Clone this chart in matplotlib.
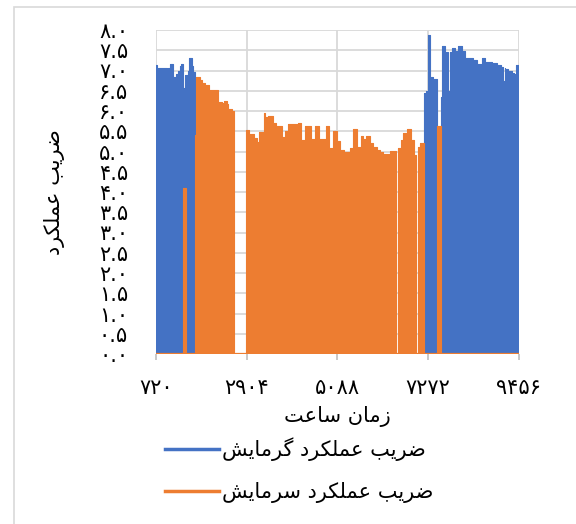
import matplotlib
matplotlib.use("Agg")
import matplotlib.pyplot as plt
from matplotlib.lines import Line2D
from matplotlib.patches import Rectangle

plt.rcParams['font.family'] = ['DejaVu Sans']

# heating COP (hour of year, value) -- step data
heat_hours = [720, 735, 770, 978, 1014, 1057, 1130, 1190, 1240, 1290, 1330, 1378, 1414,
              1491, 1527, 1580, 1612, 1667,
              7186, 7227, 7275, 7324, 7403, 7485, 7589, 7620, 7685, 7765, 7801, 7861,
              7926, 8005, 8087, 8167, 8367, 8449, 8569, 8649, 8810, 8931, 9034, 9090,
              9126, 9138, 9210, 9292, 9328, 9340, 9389, 9456]
heat_cop = [7.13, 6.07, 7.07, 6.10, 7.05, 7.15, 6.83, 6.92, 7.00, 7.12, 7.17, 6.57, 6.88,
            7.00, 7.30, 7.10, 6.97, 0.0,
            6.44, 6.50, 7.88, 6.85, 6.80, 0.0, 6.35, 7.61, 7.46, 6.50, 7.45, 7.55,
            7.49, 7.61, 7.49, 7.32, 7.26, 7.15, 7.32, 7.22, 7.18, 7.13, 7.09, 6.75,
            7.05, 7.04, 6.98, 6.80, 6.93, 6.91, 7.13, 7.13]

# cooling COP
cool_hours = [720, 1363, 1435, 1667, 1690, 1780, 1829, 1900, 1990, 2205, 2241, 2310, 2359,
              2424, 2463, 2559, 2588, 2889, 2973, 3082, 3166, 3214, 3323, 3347, 3426, 3547,
              3612, 3749, 3829, 3894, 4149, 4207, 4311, 4448, 4545, 4648, 4817, 4897, 4979,
              5075, 5154, 5251, 5395, 5475, 5557, 5653, 5716, 5781, 5877, 5957, 6039, 6118,
              6198, 6359, 6504, 6540, 6617, 6680, 6776, 6858, 6938, 6986, 7022, 7082, 7186,
              7485, 7589, 9456]
cool_cop = [0.0, 4.10, 0.0, 5.40, 6.85, 6.76, 6.70, 6.64, 6.52, 0.0, 6.22, 6.20, 6.25,
            6.17, 6.06, 6.00, 0.0, 5.53, 5.42, 5.33, 5.24, 5.49, 5.94, 5.86, 5.88, 5.70,
            5.63, 5.37, 5.50, 5.67, 5.70, 5.28, 5.63, 5.32, 5.63, 5.30, 5.63, 5.08, 5.50,
            5.25, 5.04, 5.00, 5.08, 5.55, 5.10, 5.38, 5.30, 5.38, 5.20, 5.10, 5.04, 5.00,
            4.95, 5.02, 0.0, 5.08, 5.28, 5.45, 5.55, 5.28, 4.91, 0.0, 5.10, 5.20, 0.0,
            5.62, 0.0, 0.0]

x_ticks = [720, 2904, 5088, 7272, 9456]
y_ticks = [i * 0.5 for i in range(17)]

x_title = 'زمان ساعت'
y_title = 'ضریب عملکرد'
labels = ['ضریب عملکرد گرمایش', 'ضریب عملکرد سرمایش']

BLUE = '#4472C4'
ORANGE = '#ED7D31'
GRID = '#D9D9D9'


# simple arabic/persian shaping (matplotlib has no text shaping)
FORMS = {
    'ض': ('\uFEBD', '\uFEBE', '\uFEBF', '\uFEC0'),
    'ر': ('\uFEAD', '\uFEAE', None, None),
    'ی': ('\uFBFC', '\uFBFD', '\uFBFE', '\uFBFF'),
    'ي': ('\uFEF1', '\uFEF2', '\uFEF3', '\uFEF4'),
    'ب': ('\uFE8F', '\uFE90', '\uFE91', '\uFE92'),
    'ع': ('\uFEC9', '\uFECA', '\uFECB', '\uFECC'),
    'م': ('\uFEE1', '\uFEE2', '\uFEE3', '\uFEE4'),
    'ل': ('\uFEDD', '\uFEDE', '\uFEDF', '\uFEE0'),
    'ک': ('\uFB8E', '\uFB8F', '\uFB90', '\uFB91'),
    'ك': ('\uFED9', '\uFEDA', '\uFEDB', '\uFEDC'),
    'د': ('\uFEA9', '\uFEAA', None, None),
    'ز': ('\uFEAF', '\uFEB0', None, None),
    'ا': ('\uFE8D', '\uFE8E', None, None),
    'ن': ('\uFEE5', '\uFEE6', '\uFEE7', '\uFEE8'),
    'س': ('\uFEB1', '\uFEB2', '\uFEB3', '\uFEB4'),
    'ت': ('\uFE95', '\uFE96', '\uFE97', '\uFE98'),
    'گ': ('\uFB92', '\uFB93', '\uFB94', '\uFB95'),
    'ش': ('\uFEB5', '\uFEB6', '\uFEB7', '\uFEB8'),
}


def shape(text):
    words = []
    for w in text.split(' '):
        out = []
        for i, ch in enumerate(w):
            if ch not in FORMS:
                out.append(ch)
                continue
            prev = w[i - 1] if i > 0 else None
            nxt = w[i + 1] if i < len(w) - 1 else None
            jp = prev in FORMS and FORMS[prev][2] is not None
            jn = nxt in FORMS and FORMS[ch][2] is not None
            iso, fin, ini, med = FORMS[ch]
            if jp and jn:
                g = med
            elif jp:
                g = fin
            elif jn:
                g = ini
            else:
                g = iso
            out.append(g)
        words.append(''.join(reversed(out)))
    return ' '.join(reversed(words))


def fa(s):
    return s.translate(str.maketrans('0123456789', '۰۱۲۳۴۵۶۷۸۹'))


fig = plt.figure(figsize=(5.76, 5.24), dpi=100)
ax = fig.add_axes([156 / 576, 1 - 354 / 524, 362.5 / 576, 324 / 524])

ax.fill_between(heat_hours, heat_cop, step='post', color=BLUE, lw=0, zorder=2)
ax.step(heat_hours, heat_cop, where='post', color=BLUE, lw=0.8, zorder=2)
ax.fill_between(cool_hours, cool_cop, step='post', color=ORANGE, lw=0, zorder=3)
ax.step(cool_hours, cool_cop, where='post', color=ORANGE, lw=0.8, zorder=3)
# zero line of the cooling series along the bottom
ax.plot([x_ticks[0], x_ticks[-1]], [0, 0], color=ORANGE, lw=1.6, zorder=4)

ax.set_xlim(720, 9456)
ax.set_ylim(0, 8)
ax.set_xticks(x_ticks)
ax.set_xticklabels([fa(str(v)) for v in x_ticks], fontsize=15)
ax.set_yticks(y_ticks)
ax.set_yticklabels([fa(f'{v:.1f}') for v in y_ticks], fontsize=15)
ax.grid(True, color=GRID, lw=1.3, zorder=0)
ax.set_axisbelow(True)
for s in ax.spines.values():
    s.set_visible(False)
ax.tick_params(axis='y', length=0, pad=20)
ax.tick_params(axis='x', length=4.5, width=1.2, color='#BFBFBF', pad=13)

ax.set_xlabel(shape(x_title), fontsize=15)
ax.xaxis.set_label_coords(0.5, -0.16)
ax.set_ylabel(shape(y_title), fontsize=15)
ax.yaxis.set_label_coords(-0.25, 0.5)

handles = [Line2D([], [], color=BLUE, lw=2.5), Line2D([], [], color=ORANGE, lw=2.5)]
fig.legend(handles, [shape(l) for l in labels], loc='center left',
           bbox_to_anchor=(165 / 576, 1 - 470 / 524), frameon=False, fontsize=15,
           handlelength=2.6, handletextpad=0.15, labelspacing=1.0,
           borderpad=0, borderaxespad=0)

fig.patches.append(Rectangle((14 / 576, -0.1), 1.0, 1.1 - 7 / 524, transform=fig.transFigure,
                             fill=False, edgecolor=GRID, lw=1.2))

fig.savefig('out.png', dpi=100)
